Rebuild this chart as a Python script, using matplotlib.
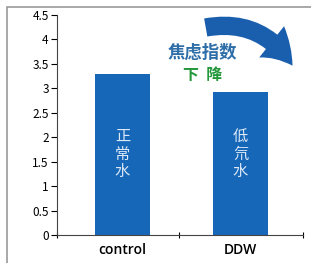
import matplotlib.pyplot as plt
from matplotlib.patches import FancyArrowPatch, Rectangle

plt.rcParams['font.family'] = ['Noto Sans CJK SC', 'DejaVu Sans']

categories = ["control", "DDW"]
values = [3.3, 2.92]
bar_labels = ["正\n常\n水", "低\n氘\n水"]
yticks = [0, 0.5, 1, 1.5, 2, 2.5, 3, 3.5, 4, 4.5]

fig = plt.figure(figsize=(3.11, 2.63), dpi=100)
ax = fig.add_axes([57 / 311, 1 - 235 / 263, 246 / 311, 220 / 263])

x = range(len(categories))
ax.bar(x, values, width=0.466, color="#1767b9")
for i, lab in enumerate(bar_labels):
    ax.text(i, 1.65, lab, ha="center", va="center", color="#dce9f7",
            fontsize=11, linespacing=1.05)

xlo, xhi = -0.555, 1.53
ax.set_xlim(xlo, xhi)
ax.set_ylim(0, 4.5)
ax.set_yticks(yticks)
ax.set_yticklabels([f"{v:g}" for v in yticks], fontsize=8.5)
ax.set_xticks([xlo, 0.48, xhi])
ax.set_xticklabels([])
ax.set_xticks(list(x), minor=True)
ax.set_xticklabels(categories, minor=True, fontsize=10,
                   family=["Open Sans", "DejaVu Sans"], fontweight="semibold")
ax.tick_params(axis="x", which="minor", length=0, pad=6)
ax.tick_params(axis="x", which="major", length=4, direction="inout")
ax.tick_params(axis="y", length=4, direction="out", pad=2)
for s in ["top", "right"]:
    ax.spines[s].set_visible(False)
for s in ["left", "bottom"]:
    ax.spines[s].set_color("#444444")

# annotation: anxiety index decreases
fig.text(202 / 311, 1 - 53 / 263, "焦虑指数", ha="center", va="center",
         color="#2e6ea8", fontsize=12.5, fontweight="bold")
fig.text(203 / 311, 1 - 75 / 263, "下  降", ha="center", va="center",
         color="#23973a", fontsize=11.5, fontweight="bold")
arrow = FancyArrowPatch((203 / 311, 1 - 28 / 263), (294 / 311, 1 - 68 / 263),
                        transform=fig.transFigure,
                        connectionstyle="arc3,rad=-0.35",
                        arrowstyle="simple,head_width=2.4,head_length=1.9,tail_width=1.1",
                        mutation_scale=12, color="#1a5fad", lw=0)
fig.patches.append(arrow)

# outer frame
fig.patches.append(Rectangle((7 / 311, -0.1), 1.2, 1 - 7 / 263 + 0.1,
                             transform=fig.transFigure, fill=False,
                             edgecolor="#9a9a9a", lw=1.2))

fig.savefig("out.png", dpi=100)
